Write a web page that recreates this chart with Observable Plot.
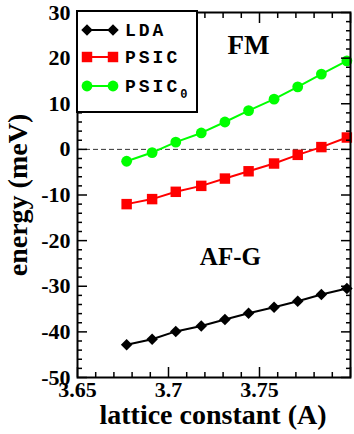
<!DOCTYPE html>
<html><head><meta charset="utf-8">
<script src="https://cdn.jsdelivr.net/npm/d3@7"></script>
<script src="https://cdn.jsdelivr.net/npm/@observablehq/plot@0.6"></script>
<style>body{margin:0;background:#fff} svg{display:block}</style>
</head><body><div id="chart"></div>
<script>
const lattice = [3.677, 3.691, 3.704, 3.718, 3.731, 3.744, 3.758, 3.771, 3.784, 3.798];
const lda   = [-42.8, -41.6, -39.9, -38.7, -37.3, -35.9, -34.6, -33.3, -31.8, -30.5];
const psic  = [-12.0, -10.9, -9.3, -8.0, -6.4, -4.8, -3.1, -1.2, 0.5, 2.6];
const psic0 = [-2.6, -0.7, 1.6, 3.6, 6.0, 8.5, 11.0, 13.7, 16.5, 19.4];
const seriesNames = ["LDA", "PSIC", "PSIC0"];
const xTickLabels = [3.65, 3.7, 3.75];
const xMajor = [3.65, 3.7, 3.75, 3.8];
const xMinor = [3.66, 3.67, 3.68, 3.69, 3.71, 3.72, 3.73, 3.74, 3.76, 3.77, 3.78, 3.79];
const yMajor = [-50, -40, -30, -20, -10, 0, 10, 20, 30];
const yMinor = [-48,-46,-44,-42,-38,-36,-34,-32,-28,-26,-24,-22,-18,-16,-14,-12,-8,-6,-4,-2,2,4,6,8,12,14,16,18,22,24,26,28];
const annotations = [{x: 3.744, y: 22.8, text: "FM", size: 27}, {x: 3.734, y: -23.5, text: "AF-G", size: 25}];

const rows = [];
lattice.forEach((a, i) => {
  rows.push({a, e: lda[i], s: "LDA"});
  rows.push({a, e: psic[i], s: "PSIC"});
  rows.push({a, e: psic0[i], s: "PSIC0"});
});
const colors = {LDA: "#000000", PSIC: "#ff0000", PSIC0: "#00ff00"};
const sym = {LDA: "diamond2", PSIC: "square", PSIC0: "circle"};
const rad = {LDA: 5.2, PSIC: 5.9, PSIC0: 5.4};
const serif = "'Liberation Serif', 'Times New Roman', serif";

const marks = [
  Plot.ruleY([0], {stroke: "#333", strokeWidth: 1, strokeDasharray: "5,3"}),
];
for (const s of seriesNames) {
  const d = rows.filter(r => r.s === s);
  marks.push(Plot.line(d, {x: "a", y: "e", stroke: colors[s], strokeWidth: 2}));
  marks.push(Plot.dot(d, {x: "a", y: "e", fill: colors[s], stroke: "none", symbol: () => sym[s], r: rad[s]}));
}
for (const a of annotations) {
  marks.push(Plot.text([a], {x: "x", y: "y", text: "text", fontSize: a.size, fontWeight: "bold", fontFamily: serif, fill: "black"}));
}
marks.push(
  Plot.axisX(xMajor, {anchor: "bottom", tickSize: -10, fill: "none", strokeWidth: 1.5, label: null}),
  Plot.axisX(xMinor, {anchor: "bottom", tickSize: -5, fill: "none", strokeWidth: 1.5, label: null}),
  Plot.axisX(xMajor, {anchor: "top", tickSize: -10, fill: "none", strokeWidth: 1.5, label: null}),
  Plot.axisX(xMinor, {anchor: "top", tickSize: -5, fill: "none", strokeWidth: 1.5, label: null}),
  Plot.axisY(yMajor, {anchor: "left", tickSize: -10, fill: "none", strokeWidth: 1.5, label: null}),
  Plot.axisY(yMinor, {anchor: "left", tickSize: -5, fill: "none", strokeWidth: 1.5, label: null}),
  Plot.axisY(yMajor, {anchor: "right", tickSize: -10, fill: "none", strokeWidth: 1.5, label: null}),
  Plot.axisY(yMinor, {anchor: "right", tickSize: -5, fill: "none", strokeWidth: 1.5, label: null}),
  Plot.axisX(xTickLabels, {anchor: "bottom", tickSize: 0, tickPadding: 4, tickFormat: d => String(d), label: null, fontSize: 22, fontWeight: "bold", fontFamily: serif}),
  Plot.axisY(yMajor, {anchor: "left", tickSize: 0, tickPadding: 7, tickFormat: d => String(d), label: null, fontSize: 22, fontWeight: "bold", fontFamily: serif}),
  Plot.frame({stroke: "black", strokeWidth: 2})
);

const chart = Plot.plot({
  width: 354, height: 434,
  marginLeft: 77, marginRight: 4, marginTop: 12, marginBottom: 57,
  x: {domain: [3.65, 3.8]},
  y: {domain: [-50, 30]},
  style: {fontFamily: serif, background: "white", color: "black"},
  marks
});

const svg = d3.select(chart);
svg.append("text").attr("x", 213).attr("y", 424).attr("text-anchor", "middle")
  .attr("font-family", serif).attr("font-weight", "bold").attr("font-size", 28).text("lattice constant (A)");
svg.append("text").attr("transform", "translate(27,195) rotate(-90)").attr("text-anchor", "middle")
  .attr("font-family", serif).attr("font-weight", "bold").attr("font-size", 28).text("energy (meV)");

const lg = svg.append("g");
lg.append("rect").attr("x", 77).attr("y", 11).attr("width", 120).attr("height", 101)
  .attr("fill", "white").attr("stroke", "black").attr("stroke-width", 2);
const rowY = [30, 57, 86];
const mono = "'Liberation Mono', 'DejaVu Sans Mono', monospace";
const symType = {LDA: d3.symbolDiamond2, PSIC: d3.symbolSquare, PSIC0: d3.symbolCircle};
seriesNames.forEach((s, i) => {
  const y = rowY[i];
  lg.append("line").attr("x1", 87).attr("x2", 113).attr("y1", y).attr("y2", y)
    .attr("stroke", colors[s]).attr("stroke-width", 2);
  for (const x of [87, 113]) {
    lg.append("path").attr("transform", `translate(${x},${y})`)
      .attr("d", d3.symbol(symType[s], Math.PI * rad[s] * rad[s])()).attr("fill", colors[s]);
  }
  const t = lg.append("text").attr("x", 125).attr("y", y + 6).attr("font-family", mono)
    .attr("text-anchor", "start")
    .attr("font-weight", "bold").attr("font-size", 18).attr("letter-spacing", 3);
  if (s === "PSIC0") {
    t.append("tspan").text("PSIC");
    t.append("tspan").attr("font-size", 12).attr("dy", 6).attr("letter-spacing", 0).text("0");
  } else t.text(s);
});

document.getElementById("chart").appendChild(chart);
</script></body></html>
